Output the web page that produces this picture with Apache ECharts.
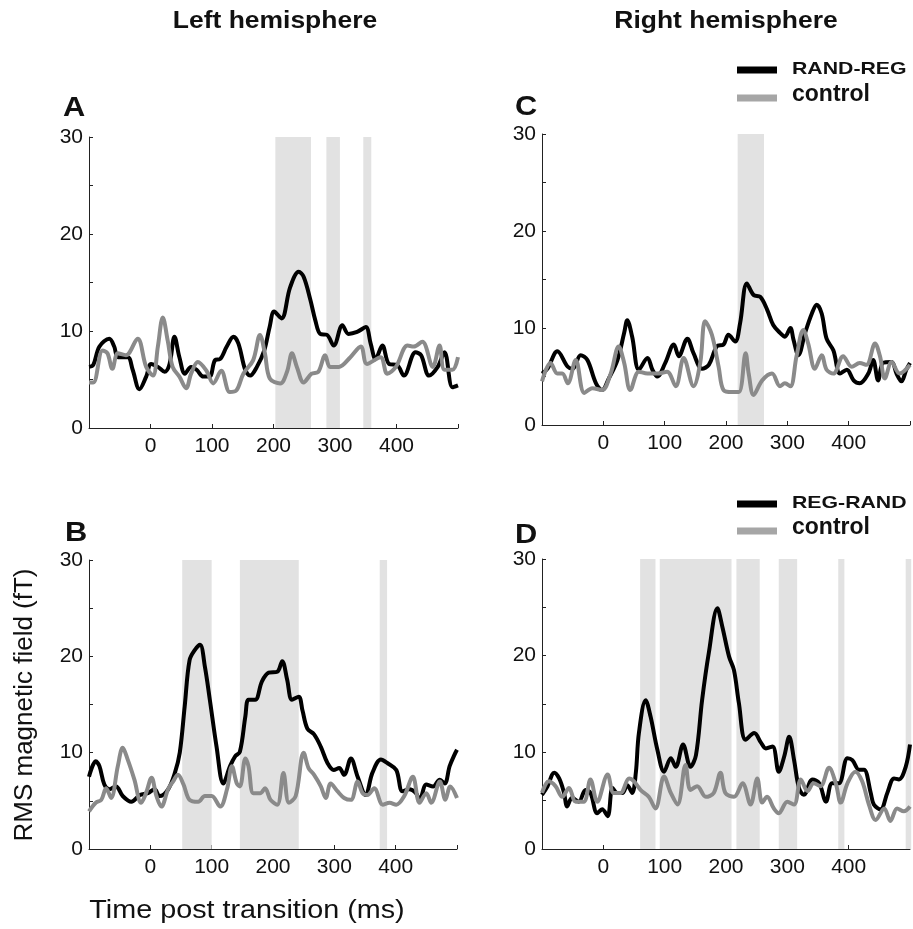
<!DOCTYPE html>
<html>
<head>
<meta charset="utf-8">
<script src="https://cdn.jsdelivr.net/npm/echarts@6/dist/echarts.min.js"></script>
<style>html,body{margin:0;padding:0;background:#fff}#c{width:913px;height:929px}</style>
</head>
<body>
<div id="c"></div>
<script>
// ---- Data (time in ms, RMS field in fT) ----
const xTicks = [0, 100, 200, 300, 400];
const yTicks = [0, 10, 20, 30];

const leftRandReg = [[-100,6.3],[-93,6.5],[-83,8.4],[-67,9.2],[-59,8.4],[-53,7.3],[-37,7.3],[-29,6.0],[-18,4.0],[-7,5.3],[1,6.6],[12,6.3],[23,5.8],[31,6.6],[39,9.4],[47,7.3],[56,5.6],[66,6.3],[75,6.0],[86,5.3],[96,5.3],[105,7.0],[113,7.1],[124,8.4],[135,9.4],[143,8.7],[154,6.0],[162,5.4],[173,6.3],[185,8.0],[194,10.5],[201,12.0],[213,11.3],[227,14.5],[241,16.1],[249,15.6],[260,13.2],[268,11.1],[276,9.7],[287,9.6],[298,8.5],[312,10.6],[322,9.7],[336,9.9],[350,10.4],[358,8.7],[366,7.1],[377,8.5],[388,6.6],[401,6.5],[412,5.4],[431,7.8],[440,7.5],[453,5.4],[467,6.3],[478,7.8],[491,4.2],[500,4.4]];
const leftControlA = [[-100,4.7],[-93,4.7],[-78,8.0],[-70,7.7],[-62,6.1],[-53,7.7],[-40,7.5],[-21,9.2],[-7,6.3],[4,5.4],[12,8.4],[20,11.4],[28,9.0],[36,6.3],[47,5.3],[58,4.1],[66,5.6],[77,6.8],[91,5.9],[102,4.6],[115,5.9],[129,3.7],[140,3.9],[151,5.6],[167,7.0],[178,9.6],[186,7.7],[194,5.1],[211,4.6],[222,5.8],[230,7.7],[238,6.3],[249,4.7],[262,5.6],[273,5.8],[284,7.5],[292,6.3],[306,6.3],[325,7.3],[342,8.4],[352,6.6],[374,7.3],[385,5.6],[399,6.3],[418,8.5],[428,8.4],[442,8.9],[459,6.3],[470,8.5],[478,6.0],[491,6.0],[500,7.3]];
const leftBandsA = [[203,261],[286,308],[346,359]];

const rightRandReg = [[-100,5.3],[-91,5.8],[-75,7.6],[-58,6.0],[-50,5.8],[-37,7.2],[-26,6.7],[-12,4.3],[-2,3.6],[9,4.8],[23,6.7],[34,9.5],[39,10.8],[47,9.1],[58,5.7],[72,6.9],[80,5.7],[88,5.0],[101,6.4],[115,8.3],[123,7.1],[137,8.9],[147,7.4],[161,5.8],[172,6.2],[185,8.1],[196,8.3],[204,9.3],[215,8.6],[223,10.5],[234,14.6],[245,13.4],[256,13.2],[267,11.9],[277,10.3],[288,9.5],[296,9.1],[305,10.0],[310,8.8],[318,7.2],[329,9.5],[340,11.5],[348,12.4],[356,11.5],[364,8.9],[375,7.7],[386,5.3],[397,5.7],[408,4.6],[418,4.3],[432,5.3],[440,6.7],[448,4.6],[456,6.4],[470,6.5],[478,5.3],[486,4.5],[494,5.7],[500,6.4]];
const rightControlC = [[-100,4.5],[-86,6.4],[-75,5.3],[-67,5.3],[-58,4.3],[-45,6.7],[-31,3.3],[-18,3.8],[-2,3.6],[12,5.3],[25,8.1],[34,6.4],[44,3.6],[58,5.5],[72,5.3],[88,5.3],[104,5.5],[118,4.0],[131,6.9],[147,4.0],[158,6.4],[166,10.7],[177,9.3],[188,6.0],[196,3.6],[210,3.4],[221,3.4],[232,7.4],[237,5.3],[245,3.1],[259,4.6],[275,5.3],[288,4.0],[296,4.3],[305,4.0],[315,7.1],[326,9.8],[334,8.4],[345,5.8],[356,7.2],[364,5.7],[375,5.3],[391,7.1],[405,6.0],[418,6.4],[429,6.2],[443,8.4],[451,7.1],[459,4.8],[470,6.5],[483,5.3],[500,6.2]];
const rightBandsC = [[219,262]];

const leftRegRand = [[-100,7.5],[-89,9.1],[-83,8.6],[-75,6.7],[-67,6.2],[-56,6.5],[-45,5.5],[-31,4.9],[-17,5.6],[-4,5.8],[7,6.2],[15,5.5],[29,6.2],[40,7.9],[48,10.0],[56,14.8],[64,19.6],[73,20.7],[81,21.2],[89,18.9],[97,15.5],[108,10.6],[119,6.8],[130,8.6],[138,9.6],[146,10.1],[155,13.8],[160,15.5],[171,15.5],[182,17.4],[193,18.3],[207,18.4],[215,19.5],[223,17.6],[231,15.5],[242,15.8],[248,14.4],[256,12.5],[267,11.9],[278,10.6],[289,8.9],[299,8.2],[308,8.4],[316,7.7],[327,9.4],[338,7.5],[351,5.6],[362,7.9],[376,9.3],[387,8.9],[401,8.2],[411,6.0],[422,6.2],[433,5.8],[439,5.1],[450,6.7],[461,6.5],[472,7.2],[480,6.8],[488,8.6],[496,9.8],[500,10.3]];
const leftControlB = [[-100,3.9],[-89,4.8],[-80,5.1],[-72,6.3],[-64,5.3],[-53,8.6],[-45,10.5],[-37,9.3],[-26,7.2],[-15,4.8],[-7,5.8],[2,7.4],[10,5.5],[18,4.4],[29,6.2],[37,7.0],[45,7.7],[54,6.7],[64,5.1],[78,4.9],[89,5.5],[100,5.5],[114,4.4],[125,6.2],[133,8.6],[141,6.8],[146,6.5],[155,9.4],[160,8.6],[168,5.8],[179,5.8],[187,6.3],[196,5.1],[207,4.6],[217,7.9],[226,4.8],[237,5.5],[250,10.0],[258,8.4],[267,7.7],[278,6.5],[286,5.3],[294,6.8],[305,6.0],[316,5.3],[327,5.1],[338,7.0],[346,5.8],[354,5.6],[365,6.3],[379,4.6],[390,4.8],[401,4.6],[414,5.5],[428,7.5],[439,4.8],[450,5.8],[458,4.8],[472,7.0],[481,5.1],[489,6.5],[500,5.3]];
const leftBandsB = [[52,100],[146,242],[374,386]];

const rightRegRand = [[-100,5.6],[-91,6.5],[-80,7.9],[-72,7.3],[-64,5.8],[-59,4.4],[-51,5.3],[-40,4.9],[-29,6.1],[-21,5.8],[-10,3.7],[-2,4.1],[7,3.4],[15,6.3],[23,5.8],[31,5.8],[39,6.6],[47,5.8],[53,7.9],[58,12.0],[69,15.4],[77,13.7],[88,10.3],[99,8.0],[110,9.4],[118,8.5],[130,10.8],[142,8.5],[151,9.7],[161,15.4],[172,20.3],[186,24.9],[194,23.0],[205,19.9],[213,18.5],[221,15.1],[232,11.3],[246,12.0],[257,11.0],[265,10.4],[276,10.6],[286,8.0],[295,9.6],[303,11.6],[311,9.2],[319,6.3],[327,5.6],[341,7.2],[352,6.8],[363,4.9],[373,6.8],[384,6.8],[398,9.4],[406,9.2],[417,8.2],[425,8.2],[436,5.8],[441,4.6],[452,4.1],[463,5.8],[474,7.3],[482,7.2],[493,8.5],[500,10.8]];
const rightControlD = [[-100,5.8],[-89,7.0],[-78,6.5],[-67,5.4],[-56,6.3],[-45,4.9],[-32,4.9],[-21,7.2],[-10,4.9],[7,7.7],[17,5.8],[28,5.8],[42,7.3],[50,7.0],[61,6.1],[74,5.4],[85,4.2],[99,7.5],[110,5.8],[121,4.6],[134,8.7],[142,6.1],[153,6.5],[167,5.4],[180,5.8],[191,7.9],[199,5.8],[213,5.4],[227,6.8],[240,4.6],[251,7.3],[259,4.8],[267,5.4],[278,4.2],[286,3.7],[300,4.9],[311,4.6],[322,7.2],[333,6.0],[343,6.8],[354,6.5],[368,8.4],[379,6.8],[387,4.8],[398,6.8],[411,8.0],[422,7.0],[433,4.6],[444,3.0],[458,4.2],[468,2.9],[479,4.2],[490,3.9],[500,4.4]];
const rightBandsD = [[60,85],[92,209],[217,255],[286,316],[383,393],[493,502]];

// ---- Layout ----
const FONT = 'Liberation Sans, Arial, Helvetica, sans-serif';
const panels = [
  {grid:{left:89, top:137, width:369, height:291}, main:leftRandReg, ctrl:leftControlA, bands:leftBandsA, mainName:'RAND-REG'},
  {grid:{left:542, top:134, width:369, height:291}, main:rightRandReg, ctrl:rightControlC, bands:rightBandsC, mainName:'RAND-REG'},
  {grid:{left:89, top:560, width:368, height:289}, main:leftRegRand, ctrl:leftControlB, bands:leftBandsB, mainName:'REG-RAND'},
  {grid:{left:542, top:559, width:369, height:290}, main:rightRegRand, ctrl:rightControlD, bands:rightBandsD, mainName:'REG-RAND'}
];

const grids = [], xAxes = [], yAxes = [], series = [];
panels.forEach((p, i) => {
  grids.push(Object.assign({containLabel:false}, p.grid));
  xAxes.push({
    type:'value', gridIndex:i, min:-100, max:500, interval:100,
    axisLine:{show:true, lineStyle:{color:'#222', width:1}},
    axisTick:{show:true, inside:true, length:4, lineStyle:{color:'#222'}},
    splitLine:{show:false},
    axisLabel:{fontFamily:FONT, fontSize:21, color:'#111', margin:8,
      formatter: v => xTicks.indexOf(v) >= 0 ? String(v) : ''}
  });
  yAxes.push({
    type:'value', gridIndex:i, min:0, max:30, interval:5,
    axisLine:{show:true, onZero:false, lineStyle:{color:'#222', width:1}},
    axisTick:{show:true, inside:true, length:4, lineStyle:{color:'#222'}},
    splitLine:{show:false},
    axisLabel:{fontFamily:FONT, fontSize:21, color:'#111', margin:6,
      formatter: v => yTicks.indexOf(v) >= 0 ? String(v) : ''}
  });
  series.push({
    type:'custom', xAxisIndex:i, yAxisIndex:i, z:1, silent:true,
    data:p.bands,
    renderItem:(params, api) => {
      const a = api.coord([api.value(0), 30]);
      const b = api.coord([api.value(1), 0]);
      return {type:'rect', shape:{x:a[0], y:a[1], width:b[0]-a[0], height:b[1]-a[1]},
        style:{fill:'#e2e2e2'}};
    },
    encode:{x:[0,1]}
  });
  series.push({
    type:'line', name:p.mainName, xAxisIndex:i, yAxisIndex:i, z:3,
    data:p.main, showSymbol:false, smooth:0.35, silent:true,
    lineStyle:{color:'#000', width:4}
  });
  series.push({
    type:'line', name:'control', xAxisIndex:i, yAxisIndex:i, z:4,
    data:p.ctrl, showSymbol:false, smooth:0.35, silent:true,
    lineStyle:{color:'#8a8a8a', width:4}
  });
});

function txt(x, y, s, size, opts) {
  opts = opts || {};
  return {type:'text', x:x, y:y, scaleX:opts.sx || 1, rotation:opts.rot || 0, z:10,
    style:{text:s, fontFamily:FONT, fontSize:size, fontWeight:opts.bold ? 'bold' : 'normal',
      fill:'#111', textAlign:opts.align || 'left', textVerticalAlign:'middle'}};
}
function swatch(x, y, color) {
  return {type:'rect', z:10, shape:{x:x, y:y-3.5, width:40, height:7}, style:{fill:color}};
}

const graphic = [
  txt(275, 22, 'Left hemisphere', 23, {bold:true, align:'center', sx:1.15}),
  txt(726, 22, 'Right hemisphere', 23, {bold:true, align:'center', sx:1.15}),
  txt(63, 108, 'A', 28, {bold:true, sx:1.1}),
  txt(515, 107, 'C', 28, {bold:true, sx:1.1}),
  txt(65, 533, 'B', 28, {bold:true, sx:1.1}),
  txt(515, 535, 'D', 28, {bold:true, sx:1.1}),
  swatch(737, 70, '#000'), txt(792, 69, 'RAND-REG', 17, {bold:true, sx:1.25}),
  swatch(737, 98, '#a6a6a6'), txt(792, 95, 'control', 23, {bold:true}),
  swatch(737, 504, '#000'), txt(792, 503, 'REG-RAND', 17, {bold:true, sx:1.25}),
  swatch(737, 531, '#a6a6a6'), txt(792, 528, 'control', 23, {bold:true}),
  txt(25, 705, 'RMS magnetic field (fT)', 26, {align:'center', rot:Math.PI/2}),
  txt(247, 911, 'Time post transition (ms)', 25, {align:'center', sx:1.15})
];

const chart = echarts.init(document.getElementById('c'), null, {renderer:'canvas'});
chart.setOption({
  animation:false,
  backgroundColor:'#fff',
  grid:grids, xAxis:xAxes, yAxis:yAxes, series:series, graphic:graphic
});
</script>
</body>
</html>
